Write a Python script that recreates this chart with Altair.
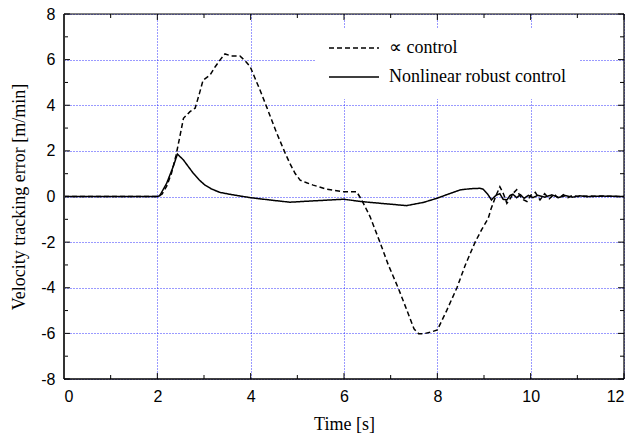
import altair as alt
import pandas as pd

# Velocity tracking error traces [m/min] against time [s]
prop_t = [0, 2.0, 2.1, 2.2, 2.3, 2.4, 2.48, 2.56, 2.7, 2.81, 2.9, 2.98, 3.13, 3.24,
          3.35, 3.45, 3.59, 3.77, 3.88, 3.99, 4.1, 4.2, 4.34, 4.45, 4.56, 4.74, 4.84,
          4.95, 5.06, 5.2, 5.34, 5.63, 5.99, 6.27, 6.38, 6.56, 6.77, 6.95, 7.16, 7.35,
          7.5, 7.6, 7.7, 7.85, 8.0, 8.2, 8.42, 8.6, 8.81, 8.95, 9.09, 9.15, 9.25,
          9.34, 9.42, 9.49, 9.56, 9.63, 9.7, 9.78, 9.85, 9.92, 10.0, 10.1, 10.2,
          10.3, 10.4, 10.5, 10.6, 10.7, 10.8, 10.9, 11.0, 11.2, 12.0]
prop_v = [0, 0, 0.1, 0.45, 1.0, 1.8, 2.6, 3.43, 3.72, 3.87, 4.5, 5.1, 5.33, 5.69,
          6.0, 6.25, 6.16, 6.16, 5.95, 5.69, 5.15, 4.67, 3.94, 3.35, 2.77, 1.9, 1.45,
          1.02, 0.72, 0.6, 0.5, 0.32, 0.21, 0.21, -0.15, -0.89, -2.0, -3.0, -4.0, -5.0,
          -5.8, -6.02, -6.02, -5.95, -5.85, -5.0, -4.0, -3.0, -2.0, -1.45, -0.96, -0.55, 0.0,
          0.43, 0.1, -0.3, -0.1, 0.15, 0.3, 0.0, -0.15, -0.22, 0.05, 0.18, -0.15,
          0.12, -0.1, 0.1, -0.08, 0.08, -0.05, 0.05, 0.0, 0.02, 0.0]

robust_t = [0, 2.0, 2.05, 2.2, 2.34, 2.43, 2.56, 2.65, 2.77, 2.9, 3.02, 3.16, 3.34,
            3.6, 3.99, 4.4, 4.84, 5.27, 5.99, 6.41, 6.9, 7.34, 7.7, 7.99, 8.2, 8.49,
            8.7, 8.91, 8.98, 9.08, 9.16, 9.22, 9.27, 9.34, 9.41, 9.49, 9.56, 9.62,
            9.7, 9.78, 9.86, 9.95, 10.05, 10.15, 10.3, 10.45, 10.6, 10.75, 10.9,
            11.05, 11.2, 11.5, 12.0]
robust_v = [0, 0, 0.03, 0.58, 1.31, 1.86, 1.6, 1.35, 1.02, 0.72, 0.5, 0.33, 0.18,
            0.08, -0.05, -0.15, -0.25, -0.2, -0.12, -0.23, -0.32, -0.4, -0.26, -0.08, 0.08, 0.29,
            0.34, 0.36, 0.32, 0.1, -0.15, -0.02, 0.07, 0.12, -0.12, -0.15, 0.05, 0.1,
            -0.05, 0.08, -0.08, 0.05, -0.05, 0.05, -0.03, 0.07, -0.04, 0.04, -0.03,
            0.03, -0.01, 0.02, 0.0]

series_names = ["\u221d control", "Nonlinear robust control"]

x_major = [0, 2, 4, 6, 8, 10, 12]
x_minor = [1, 3, 5, 7, 9, 11]
y_major = [-8, -6, -4, -2, 0, 2, 4, 6, 8]
y_minor = [-7, -5, -3, -1, 1, 3, 5, 7]

W, H = 560, 365
SANS = "Liberation Sans"
SERIF = "Liberation Serif"
GRID = dict(gridColor="#1010ff", gridDash=[1, 2], gridWidth=1, gridOpacity=0.85)

lines_df = pd.concat([
    pd.DataFrame({"t": prop_t, "v": prop_v, "series": series_names[0], "order": range(len(prop_t))}),
    pd.DataFrame({"t": robust_t, "v": robust_v, "series": series_names[1], "order": range(len(robust_t))}),
])

x_scale = alt.Scale(domain=[0, 12], nice=False, zero=False)
y_scale = alt.Scale(domain=[-8, 8], nice=False, zero=False)

# plain hyphen for negative tick labels
PLAIN = "'' + datum.value"

x_axis = alt.Axis(values=x_major, title="Time [s]", labelFont=SANS, labelFontSize=16,
                  labelColor="black", labelPadding=9, labelExpr=PLAIN, ticks=False,
                  tickSize=0, domain=False, titleFont=SERIF, titleFontSize=18,
                  titleFontWeight="normal", titleColor="black", titlePadding=11,
                  grid=True, **GRID)
y_axis = alt.Axis(values=y_major, title="Velocity tracking error [m/min]", labelFont=SANS,
                  labelFontSize=16, labelColor="black", labelPadding=9, labelExpr=PLAIN,
                  ticks=False, tickSize=0, domain=False, titleFont=SERIF, titleFontSize=18,
                  titleFontWeight="normal", titleColor="black", titlePadding=12,
                  grid=True, **GRID)

lines = alt.Chart(lines_df).mark_line(color="black", strokeWidth=1.5).encode(
    x=alt.X("t:Q", scale=x_scale, axis=x_axis),
    y=alt.Y("v:Q", scale=y_scale, axis=y_axis),
    order="order:Q",
    strokeDash=alt.StrokeDash(
        "series:N",
        scale=alt.Scale(domain=series_names, range=[[5, 3], [1, 0]]),
        legend=alt.Legend(
            title=None, orient="none", legendX=252, legendY=14,
            symbolType="stroke", symbolSize=2500, symbolStrokeWidth=1.4,
            symbolStrokeColor="black", labelFont=SERIF, labelFontSize=18,
            labelColor="black", labelOffset=9, labelLimit=400, clipHeight=16,
            rowPadding=11, padding=12, fillColor="white", strokeColor="white",
        ),
    ),
)


def xticks(vals, length, top):
    df = pd.DataFrame({"t": vals})
    y0, y1 = (0, length) if top else (H, H - length)
    return alt.Chart(df).mark_rule(color="black", strokeWidth=1).encode(
        x=alt.X("t:Q", scale=x_scale, axis=x_axis),
        y=alt.value(y0), y2=alt.value(y1),
    )


def yticks(vals, length, right):
    df = pd.DataFrame({"v": vals})
    x0, x1 = (W, W - length) if right else (0, length)
    return alt.Chart(df).mark_rule(color="black", strokeWidth=1).encode(
        y=alt.Y("v:Q", scale=y_scale, axis=y_axis),
        x=alt.value(x0), x2=alt.value(x1),
    )


ticks = [
    xticks(x_major, 6, False), xticks(x_minor, 4, False),
    xticks(x_major, 6, True), xticks(x_minor, 4, True),
    yticks(y_major, 6, False), yticks(y_minor, 4, False),
    yticks(y_major, 6, True), yticks(y_minor, 4, True),
]

frame_df = pd.DataFrame({"side": ["frame"]})
frame = [
    alt.Chart(frame_df).mark_rule(color="#333333", strokeWidth=2).encode(
        x=alt.value(0), y=alt.value(0), y2=alt.value(H)),
    alt.Chart(frame_df).mark_rule(color="black", strokeWidth=1.2).encode(
        x=alt.value(W), y=alt.value(0), y2=alt.value(H)),
    alt.Chart(frame_df).mark_rule(color="black", strokeWidth=1.2).encode(
        y=alt.value(0), x=alt.value(0), x2=alt.value(W)),
    alt.Chart(frame_df).mark_rule(color="black", strokeWidth=1.5).encode(
        y=alt.value(H), x=alt.value(0), x2=alt.value(W)),
]

chart = alt.layer(lines, *ticks, *frame).properties(
    width=W, height=H,
    autosize=alt.AutoSizeParams(type="none"),
    padding={"left": 64, "top": 14, "right": 11, "bottom": 60},
    background="white",
).configure_view(stroke=None)

chart.save("out.html", embed_options={"renderer": "svg", "actions": False})
